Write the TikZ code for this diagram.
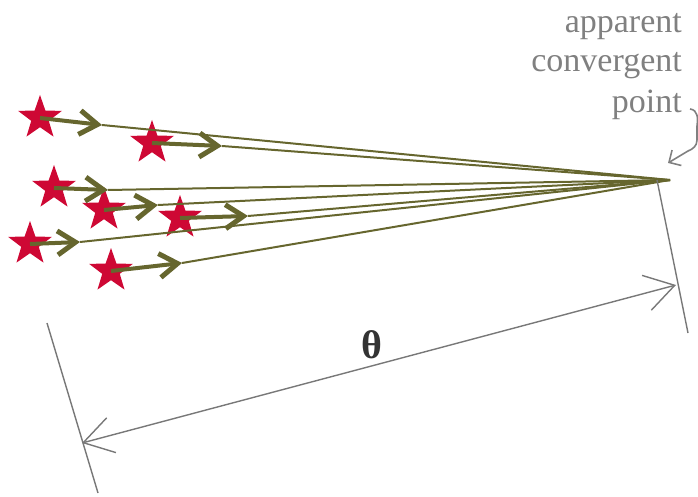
\documentclass[tikz,border=0pt]{standalone}
\usepackage{fontspec}
\setmainfont{Liberation Serif}
\usetikzlibrary{shapes.geometric,arrows.meta}
\definecolor{olive}{RGB}{102,102,46}
\definecolor{starred}{RGB}{206,8,52}
\definecolor{dimgray}{RGB}{120,120,120}
\definecolor{txtgray}{RGB}{128,128,128}
\tikzset{
  redstar/.style={star,star points=5,star point ratio=2.5,minimum size=46pt,inner sep=0pt,fill=starred,draw=none},
  shaft/.style={olive,line width=4pt,-{Straight Barb[length=18pt,width=24pt,line width=5pt]}},
  ray/.style={olive,line width=2pt},
  dimline/.style={dimgray,line width=1.4pt},
  dimarrow/.style={dimgray,line width=1.4pt,{Straight Barb[length=29pt,width=36pt,line width=1.4pt]}-{Straight Barb[length=29pt,width=36pt,line width=1.4pt]}},
  lbl/.style={txtgray,font=\fontsize{34}{38}\selectfont,inner sep=0pt,anchor=base east}
}
\begin{document}
\begin{tikzpicture}[x=1pt,y=-1pt]
\useasboundingbox (0,0) rectangle (698,497);
% convergence point
\coordinate (c) at (670,180);
% stars
\node[redstar] (s1) at (40,118) {};
\node[redstar] (s2) at (152,143) {};
\node[redstar] (s3) at (54,188) {};
\node[redstar] (s4) at (104,210) {};
\node[redstar] (s5) at (180,218) {};
\node[redstar] (s6) at (30,244) {};
\node[redstar] (s7) at (111,271) {};
% arrow tips
\coordinate (a1) at (102,125);
\coordinate (a2) at (222,146);
\coordinate (a3) at (108,190);
\coordinate (a4) at (158,205);
\coordinate (a5) at (248,216);
\coordinate (a6) at (80,242);
\coordinate (a7) at (182,263);
% rays
\foreach \i in {1,...,7}{\draw[ray] (a\i) -- (c);}
% shafts
\draw[shaft] (s1.center) -- (a1);
\draw[shaft] (s2.center) -- (a2);
\draw[shaft] (s3.center) -- (a3);
\draw[shaft] (s4.center) -- (a4);
\draw[shaft] (s5.center) -- (a5);
\draw[shaft] (s6.center) -- (a6);
\draw[shaft] (s7.center) -- (a7);
% extension lines
\coordinate (e1) at (47,323);
\coordinate (e2) at (98,493);
\coordinate (e3) at (657,180);
\coordinate (e4) at (688,333);
\draw[dimline] (e1) -- (e2);
\draw[dimline] (e3) -- (e4);
\coordinate (d1) at (82,443);
\coordinate (d2) at (676,285);
\draw[dimarrow] (d1) -- (d2);
\node[font=\fontsize{40}{40}\selectfont\bfseries,text=black!80,inner sep=0pt] (th) at (372,345) {θ};
% label
\node[lbl] (t1) at (682,33) {apparent};
\node[lbl] (t2) at (682,72) {convergent};
\node[lbl] (t3) at (682,113) {point};
\coordinate (p1) at (690,109);
\coordinate (p2) at (668,163);
\draw[txtgray,line width=1.6pt,-{Straight Barb[length=9pt,width=18pt,line width=1.6pt]}]
  (p1) .. controls (698,110) and (698,118) .. (697,126) -- (697,140)
  .. controls (697,146) and (693,149) .. (688,151) -- (p2);
\end{tikzpicture}
\end{document}
